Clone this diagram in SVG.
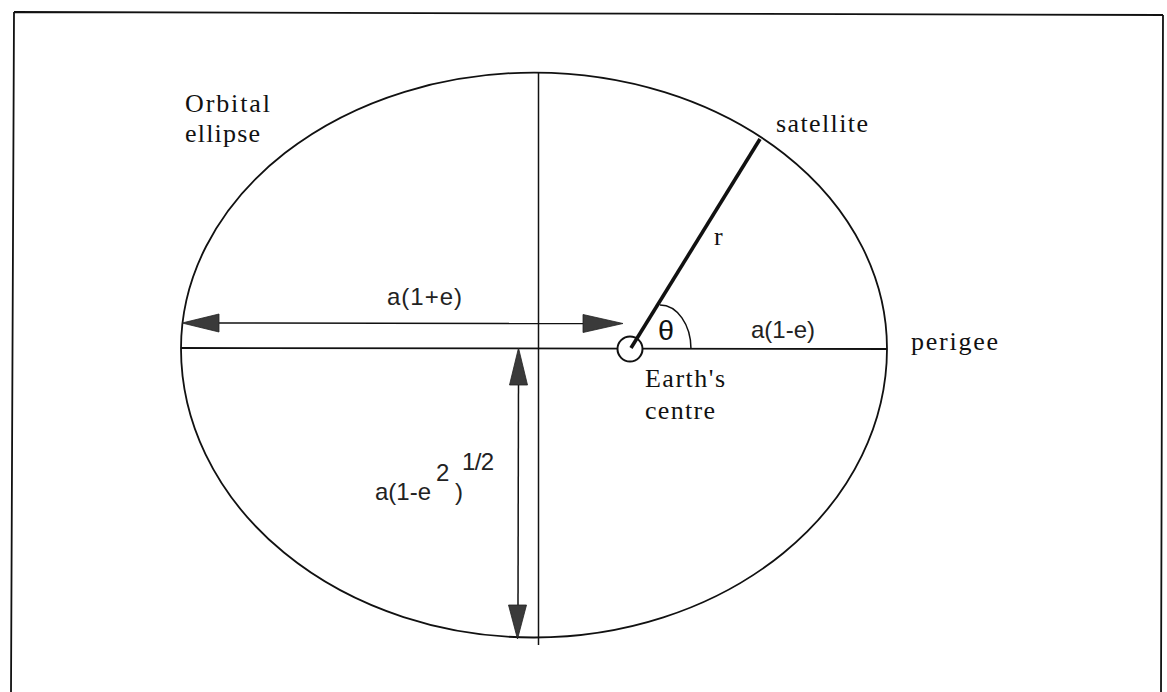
<svg xmlns="http://www.w3.org/2000/svg" width="1167" height="692" viewBox="0 0 1167 692">
<style>
.ln{stroke:#111;fill:none;stroke-width:1.8}
.thin{stroke:#111;fill:none;stroke-width:1.5}
.head{fill:#3a3a3a;stroke:#222;stroke-width:0.8}
.serif{font-family:"Liberation Serif","DejaVu Serif",serif;font-size:26px;fill:#111}
.sans{font-family:"Liberation Sans","DejaVu Sans",sans-serif;font-size:24px;fill:#222}
</style>
<rect x="0" y="0" width="1167" height="692" fill="#fff"/>
<g id="frame">
<path class="ln" d="M14 12 L1163 15 M14 12 L11 692 M1163 15 L1161 692" stroke-width="2"/>
</g>
<g id="ellipse">
<path class="ln" d="M181 348 A353 276 0 0 1 887 349 A353 289 0 0 1 181 348 Z"/>
<text class="serif" x="185" y="112" textLength="85" lengthAdjust="spacing">Orbital</text>
<text class="serif" x="185" y="142" textLength="75" lengthAdjust="spacing">ellipse</text>
</g>
<g id="axes">
<line class="ln" x1="181" y1="348" x2="887" y2="349"/>
<line class="thin" x1="538.5" y1="72" x2="538.5" y2="645"/>
</g>
<g id="earth">
<circle cx="630" cy="349" r="12.5" fill="#fff" stroke="#111" stroke-width="2"/>
<text class="serif" x="645" y="387" textLength="80" lengthAdjust="spacing">Earth's</text>
<text class="serif" x="645" y="419" textLength="70" lengthAdjust="spacing">centre</text>
</g>
<g id="satellite">
<line x1="631" y1="348" x2="760" y2="139" stroke="#111" stroke-width="3.6"/>
<text class="serif" x="776" y="132" textLength="92" lengthAdjust="spacing">satellite</text>
<text class="serif" x="714" y="245">r</text>
</g>
<g id="angle">
<path class="thin" d="M660 305 A31 44 0 0 1 691 349"/>
<text x="658" y="340" font-family="Liberation Sans, DejaVu Sans, sans-serif" font-size="27" fill="#111" textLength="16" lengthAdjust="spacingAndGlyphs">θ</text>
</g>
<g id="perigee">
<text class="serif" x="911" y="350" textLength="87" lengthAdjust="spacing">perigee</text>
<text class="sans" x="751" y="338" textLength="64" lengthAdjust="spacing">a(1-e)</text>
</g>
<g id="connectors">
<line class="thin" x1="215" y1="323" x2="590" y2="323.5"/>
<polygon class="head" points="182,323 219,314 219,332"/>
<polygon class="head" points="623,323.5 583,314.5 583,332.5"/>
<text class="sans" x="387" y="305" textLength="75" lengthAdjust="spacing">a(1+e)</text>
<line class="thin" x1="518.5" y1="380" x2="518" y2="608"/>
<polygon class="head" points="518.5,348 509.5,385 527.5,385"/>
<polygon class="head" points="517.5,639 508.5,605 526.5,605"/>
<text class="sans" x="375" y="500" textLength="56" lengthAdjust="spacing">a(1-e</text>
<text class="sans" x="436" y="481">2</text>
<text class="sans" x="455" y="500">)</text>
<text class="sans" x="462" y="470" textLength="32" lengthAdjust="spacing">1/2</text>
</g>
</svg>
